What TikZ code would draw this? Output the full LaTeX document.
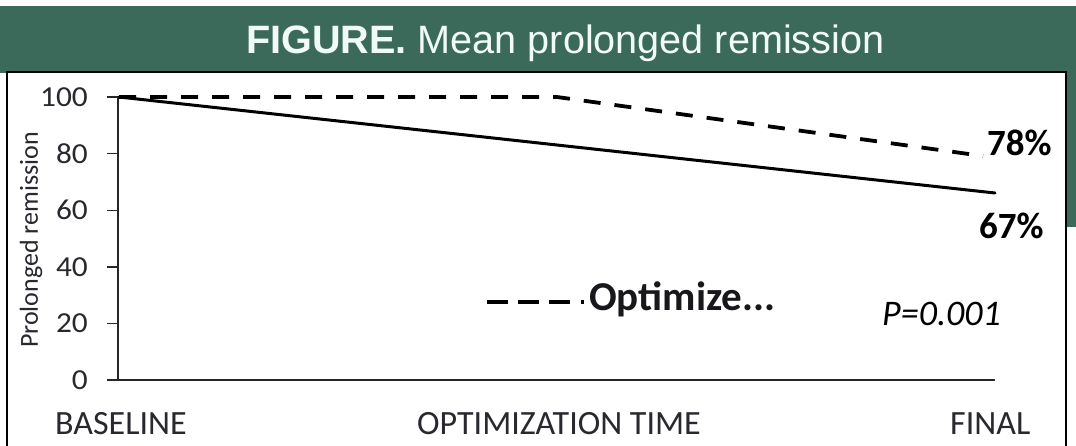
\documentclass[tikz,border=0pt]{standalone}
\usepackage{fontspec}
\setmainfont{Carlito}
\newfontfamily\titlefont{Liberation Sans}
\newfontfamily\tickfont[FakeStretch=1.08]{Carlito}
\definecolor{bandgreen}{RGB}{59,106,90}
\definecolor{titlewhite}{RGB}{240,250,246}
\definecolor{axistext}{RGB}{40,40,46}
\tikzset{
  lbl/.style={inner sep=0pt, outer sep=0pt, text=axistext},
  ticklbl/.style={inner sep=0pt, anchor=east, text=axistext, font=\tickfont\fontsize{29}{32}\selectfont},
  catlbl/.style={inner sep=0pt, anchor=base west, text=axistext, font=\fontsize{34}{38}\selectfont},
  pctlbl/.style={inner sep=0pt, anchor=base west, font=\bfseries\fontsize{37}{40}\selectfont},
  axisline/.style={line width=1.4pt, draw=black!85},
  solidseries/.style={line width=3pt, line cap=round},
  dashseries/.style={line width=3.8pt, dash pattern=on 17pt off 14pt},
  legdash/.style={line width=3.8pt},
}
\begin{document}
\begin{tikzpicture}[x=1pt,y=-1pt]
\useasboundingbox (0,0) rectangle (1076,445);
% green band
\fill[bandgreen] (0,6) rectangle (1076,73);
\fill[bandgreen] (1066,6) rectangle (1076,227);
% white panel
\fill[white] (7,72) rectangle (1066,448);
\draw[line width=1.5pt] (7,448) -- (7,72) -- (1066,72) -- (1066,448);
% title
\node[inner sep=0pt, anchor=base west, text=titlewhite, font=\titlefont\fontsize{39.6}{42}\selectfont] (title) at (246,53) {\textbf{FIGURE.} Mean prolonged remission};
% axes
\coordinate (o) at (118,380);
\coordinate (ytop) at (118,97);
\coordinate (xend) at (995,380);
\draw[axisline] (ytop) -- (o);
\draw[axisline] (107,380) -- (xend);
\foreach \v/\yy in {100/97,80/153.6,60/210.2,40/266.8,20/323.4,0/380}{
  \draw[axisline] (107,\yy) -- (118,\yy);
  \node[ticklbl] (t\v) at (88,\yy) {\v};
}
\node[lbl, rotate=90, font=\fontsize{26}{28}\selectfont] (ylab) at (31,240) {Prolonged remission};
% categories
\node[catlbl] (cat1) at (55,434) {BASELINE};
\node[catlbl] (cat2) at (417,434) {OPTIMIZATION TIME};
\node[catlbl] (cat3) at (950,434) {FINAL};
% series
\coordinate (s0) at (119,97);
\coordinate (s2) at (995,193);
\coordinate (d0) at (119,97);
\coordinate (d1) at (557,97);
\coordinate (d2) at (983,156);
\draw[solidseries] (s0) -- (s2);
\draw[dashseries] (d0) -- (d1) -- (d2);
% value labels
\node[pctlbl] (p78) at (987,155) {78\%};
\node[pctlbl] (p67) at (979,238) {67\%};
\node[inner sep=0pt, anchor=base west, font=\itshape\fontsize{36}{40}\selectfont] (pval) at (882,325) {P=0.001};
% legend sample: three dashes and a dot
\foreach \a in {487,518,549}{
  \draw[legdash] (\a,302) -- ++(21,0);
}
\draw[legdash] (581,302) -- ++(3,0);
\node[inner sep=0pt, anchor=base west, text=axistext!60!black, font=\bfseries\fontsize{41}{44}\selectfont] (leg) at (589,310) {Optimize...};
\end{tikzpicture}
\end{document}
